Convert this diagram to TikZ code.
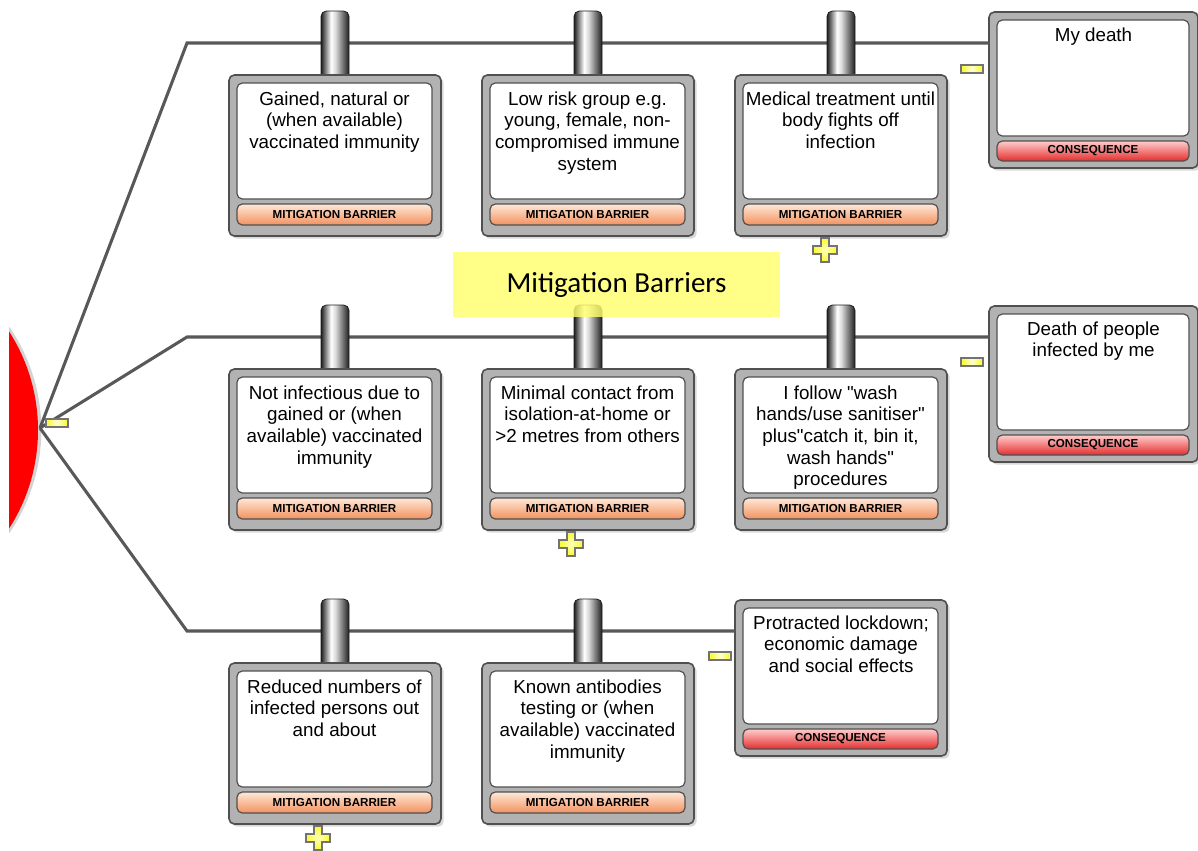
\documentclass[tikz,border=0pt]{standalone}
\usepackage{fontspec}
\setmainfont{Liberation Sans}
\newfontfamily\titlefont{Carlito}
\usetikzlibrary{shadows}

\definecolor{linegray}{RGB}{88,88,88}
\definecolor{boxgray}{RGB}{178,178,178}
\definecolor{edgegray}{RGB}{80,80,80}
\definecolor{pdark}{RGB}{30,30,30}
\definecolor{mtop}{RGB}{255,232,215}
\definecolor{mbot}{RGB}{242,145,95}
\definecolor{ctop}{RGB}{255,205,205}
\definecolor{cbot}{RGB}{228,45,45}
\definecolor{hl}{RGB}{255,255,110}
\definecolor{iconyel}{RGB}{250,250,40}

\pgfdeclarehorizontalshading{pillarshade}{100bp}{color(0bp)=(pdark); color(25bp)=(pdark); color(43bp)=(white); color(51bp)=(white!85!black); color(75bp)=(pdark); color(100bp)=(pdark)}

\tikzset{
  outerbox/.style={draw=edgegray, line width=1.2pt, fill=boxgray, rounded corners=4pt, outer sep=0pt, inner sep=0pt,
    drop shadow={shadow xshift=2pt, shadow yshift=-2pt, opacity=0.3}},
  innerbox/.style={draw=edgegray, line width=0.9pt, fill=white, rounded corners=4pt, outer sep=0pt, inner sep=0pt,
    minimum width=146.25pt, minimum height=87pt},
  labbar/.style={draw=edgegray, line width=0.9pt, rounded corners=4pt, outer sep=0pt, inner sep=0pt,
    minimum width=146.25pt, minimum height=15.75pt, font=\fontsize{8.7}{9}\selectfont\bfseries, text=black},
  mbar/.style={labbar, top color=mtop, bottom color=mbot},
  cbar/.style={labbar, top color=ctop, bottom color=cbot},
  btext/.style={anchor=base, inner sep=0pt, font=\fontsize{14.1}{16.3}\selectfont, text=black},
  pillar/.style={draw=pdark, line width=0.6pt, shading=pillarshade, rounded corners=4pt,
    minimum width=21pt, minimum height=52.5pt, inner sep=0pt},
  conn/.style={draw=linegray, line width=2.3pt},
  minusicon/.style={draw=edgegray!80, line width=0.9pt, left color=iconyel, right color=iconyel, middle color=yellow!20,
    minimum width=16.5pt, minimum height=6pt, inner sep=0pt},
  plusicon/.style={draw=edgegray!80, line width=1.1pt, inner color=yellow!25, outer color=iconyel},
}

\newcommand\qq{\textquotedbl}
\newcommand\barrierbox[4]{%
  \node[pillar] (#1-p) at (#2+106,#3-29) {};
  \node[outerbox, anchor=north west, minimum width=159pt, minimum height=120.75pt] (#1) at (#2,#3) {};
  \node[innerbox, anchor=north west] (#1-in) at (#2+8,#3+8) {};
  \node[mbar, anchor=north west] (#1-lab) at (#2+8,#3+129) {MITIGATION BARRIER};
  \node[btext] (#1-txt) at (#2+105.5,#3+30) {\parbox[t]{150pt}{\centering #4}};
}
\newcommand\consbox[5]{%
  \node[outerbox, anchor=north west, minimum width=#4*0.75pt, minimum height=117pt] (#1) at (#2,#3) {};
  \node[innerbox, anchor=north west, minimum width=(#4-17)*0.75pt] (#1-in) at (#2+8,#3+8) {};
  \node[cbar, anchor=north west, minimum width=(#4-17)*0.75pt, minimum height=15pt] (#1-lab) at (#2+8,#3+129) {CONSEQUENCE};
  \node[btext] (#1-txt) at (#2+#4/2,#3+29) {\parbox[t]{150pt}{\centering #5}};
}
\newcommand\plusat[3]{%
  \draw[plusicon] (#2-4,#3-12) -- (#2+4,#3-12) -- (#2+4,#3-4) -- (#2+12,#3-4) -- (#2+12,#3+4) -- (#2+4,#3+4)
    -- (#2+4,#3+12) -- (#2-4,#3+12) -- (#2-4,#3+4) -- (#2-12,#3+4) -- (#2-12,#3-4) -- (#2-4,#3-4) -- cycle;
  \coordinate (#1) at (#2,#3);
}

\begin{document}
\begin{tikzpicture}[x=0.75pt, y=-0.75pt]
\useasboundingbox (0,0) rectangle (1198,850);

% top event (red circle, cut by the left edge)
\begin{scope}
  \clip (9,0) rectangle (400,850);
  \node[circle, fill=red, minimum size=273pt, inner sep=0pt,
        drop shadow={shadow xshift=2.5pt, shadow yshift=0pt, opacity=0.35}] (event) at (-144,430) {};
\end{scope}

\coordinate (hub) at (40,428);
\coordinate (k1) at (187,43);
\coordinate (k2) at (187,337);
\coordinate (k3) at (187,631);

% consequences
\consbox{c1}{989}{12}{209}{My death}
\consbox{c2}{989}{306}{209}{Death of people\\infected by me}
\consbox{c3}{735}{600}{212}{Protracted lockdown;\\economic damage\\and social effects}

% connectors
\draw[conn] (hub) -- (k1) -- (k1 -| c1.west);
\draw[conn] (hub) -- (k2) -- (k2 -| c2.west);
\draw[conn] (hub) -- (k3) -- (k3 -| c3.west);

% barriers
\barrierbox{b1}{229}{75}{Gained, natural or\\(when available)\\vaccinated immunity}
\barrierbox{b2}{482}{75}{Low risk group e.g.\\young, female, non-\\compromised immune\\system}
\barrierbox{b3}{735}{75}{Medical treatment until\\body fights off\\infection}
\barrierbox{b4}{229}{369}{Not infectious due to\\gained or (when\\available) vaccinated\\immunity}
\barrierbox{b5}{482}{369}{Minimal contact from\\isolation-at-home or\\>2 metres from others}
\barrierbox{b6}{735}{369}{I follow \qq wash\\hands/use sanitiser\qq\\plus\qq catch it, bin it,\\wash hands\qq\\procedures}
\barrierbox{b7}{229}{663}{Reduced numbers of\\infected persons out\\and about}
\barrierbox{b8}{482}{663}{Known antibodies\\testing or (when\\available) vaccinated\\immunity}

% collapse / expand icons
\node[minusicon] (m0) at (57,423) {};
\node[minusicon] (m1) at (972,69) {};
\node[minusicon] (m2) at (972,362) {};
\node[minusicon] (m3) at (720,656) {};
\plusat{p1}{825}{250}
\plusat{p2}{571}{544}
\plusat{p3}{318}{838}

% highlighted caption
\node[fill=hl, fill opacity=0.82, text opacity=1, minimum width=245.25pt, minimum height=48.75pt, inner sep=0pt,
      font=\titlefont\fontsize{21.8}{24}\selectfont] (title) at (616.5,284.5) {Mitigation Barriers};
\end{tikzpicture}
\end{document}
